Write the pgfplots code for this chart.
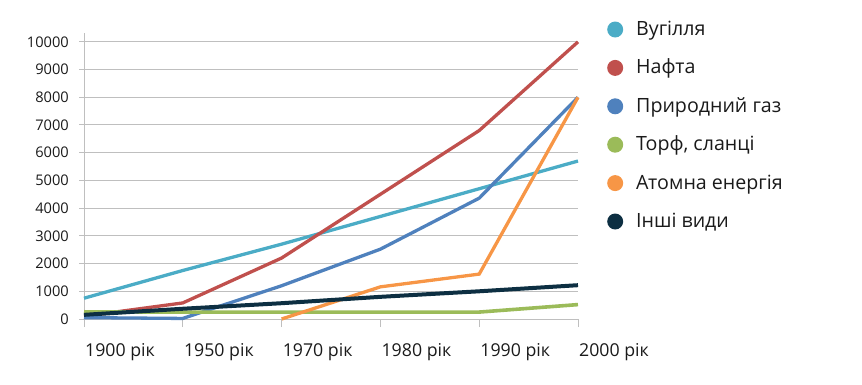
\documentclass[border=0pt]{standalone}
\usepackage{pgfplots}
\pgfplotsset{compat=1.18}
\usepackage{fontspec}
\setmainfont{Open Sans}
\definecolor{cCoal}{HTML}{4BACC6}
\definecolor{cOil}{HTML}{C0504D}
\definecolor{cGas}{HTML}{4F81BD}
\definecolor{cPeat}{HTML}{9BBB59}
\definecolor{cNuc}{HTML}{F79646}
\definecolor{cOther}{HTML}{0D2F42}
\definecolor{cGrid}{HTML}{BFBFBF}
\definecolor{cText}{HTML}{1A1A1A}
\begin{document}
\begin{tikzpicture}
\useasboundingbox (0bp,0bp) rectangle (862bp,-385bp);
\begin{axis}[
  at={(84bp,-319bp)}, anchor=south west,
  scale only axis, width=494bp, height=286.3bp,
  xmin=0, xmax=5, ymin=0, ymax=10330,
  clip=false,
  axis x line*=bottom, axis y line*=left,
  axis line style={cGrid, line width=1bp},
  xtick={0,1,2,3,4,5},
  xticklabels={1900 рік,1950 рік,1970 рік,1980 рік,1990 рік,2000 рік},
  ytick={0,1000,...,10000},
  yticklabel style={font=\fontsize{14.7}{16}\selectfont, text=cText, inner sep=0pt, xshift=-7bp},
  xticklabel style={font=\fontsize{17.8}{20}\selectfont, text=cText, anchor=north west, inner sep=0pt, xshift=1bp, yshift=-16bp},
  /pgf/number format/assume math mode=true,
  scaled y ticks=false,
  yticklabel={\pgfmathprintnumber[fixed,1000 sep={}]{\tick}},
  tick align=outside,
  major tick length=8bp,
  ytick style={cGrid, line width=1bp, /pgfplots/major tick length=5bp},
  xtick style={cGrid, line width=1bp},
  ymajorgrids,
  grid style={cGrid, line width=1bp},
  legend cell align=left,
  legend style={at={(1.0587,1.0433)}, anchor=north west, draw=none, fill=none,
    inner sep=0pt, row sep=18.4bp, column sep=13bp,
    font=\fontsize{19.7}{22}\selectfont, text=cText,
    nodes={inner sep=0pt, text height=15bp, text depth=5bp}},
  legend image code/.code={\fill[draw=none] (8bp,1bp) circle (8bp);},
]
\addplot[cCoal, line width=3.3bp] coordinates {(0,750) (1,1750) (2,2700) (3,3700) (4,4700) (5,5700)};
\addlegendentry{Вугілля}
\addplot[cOil, line width=3.3bp] coordinates {(0,100) (1,580) (2,2200) (3,4500) (4,6800) (5,10000)};
\addlegendentry{Нафта}
\addplot[cGas, line width=3.3bp] coordinates {(0,50) (1,20) (2,1200) (3,2520) (4,4360) (5,8000)};
\addlegendentry{Природний газ}
\addplot[cPeat, line width=3.6bp] coordinates {(0,260) (1,250) (2,250) (3,250) (4,250) (5,520)};
\addlegendentry{Торф, сланці}
\addplot[cNuc, line width=3.3bp] coordinates {(2,0) (3,1160) (4,1620) (5,8000)};
\addlegendentry{Атомна енергія}
\addplot[cOther, line width=4bp] coordinates {(0,150) (1,370) (2,570) (3,800) (4,1000) (5,1220)};
\addlegendentry{Інші види}
\end{axis}
\end{tikzpicture}
\end{document}
